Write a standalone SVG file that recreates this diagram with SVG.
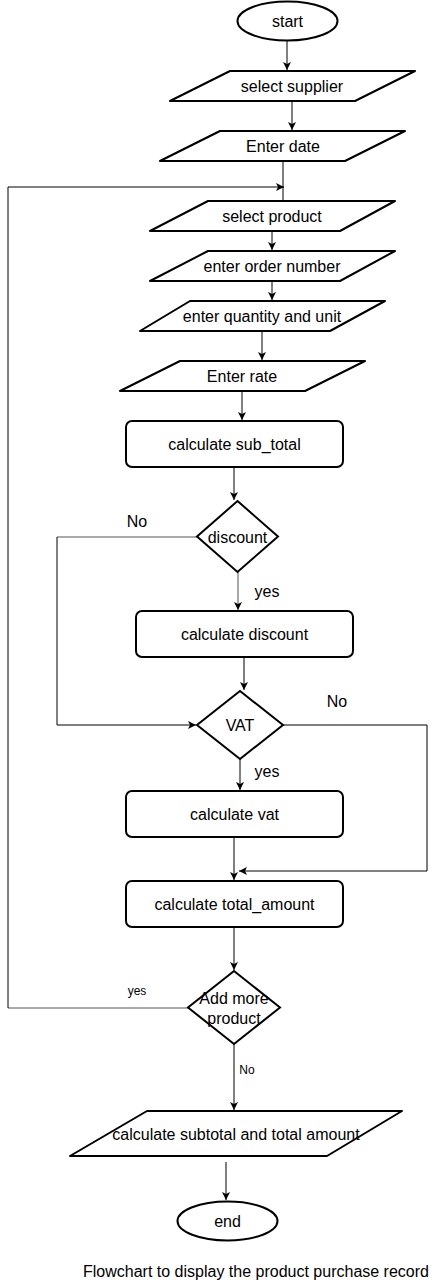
<svg xmlns="http://www.w3.org/2000/svg" width="437" height="1282" viewBox="0 0 437 1282">
<defs>
<marker id="arr" markerWidth="10" markerHeight="10" refX="8" refY="4" orient="auto" markerUnits="userSpaceOnUse">
<path d="M0,0 L8,4 L0,8 L2,4 Z" fill="#000"/>
</marker>
<style>
.n{fill:#fff;stroke:#000;stroke-width:2}
.t{font-family:"Liberation Sans",Arial,sans-serif;font-size:16px;fill:#000;text-anchor:middle;dominant-baseline:central}
.s{font-size:12px}
.c{fill:none;stroke:#000;stroke-width:1}
.g{stroke:#555}
</style>
</defs>
<rect width="437" height="1282" fill="#fff"/>
<g id="connectors">
<path class="c" d="M287,41 V70" marker-end="url(#arr)"/>
<path class="c" d="M292,101 V130" marker-end="url(#arr)"/>
<path class="c" d="M283,161 V201"/>
<path class="c g" d="M188,1008 H8"/>
<path class="c" d="M8,1008 V187 H284" marker-end="url(#arr)"/>
<path class="c" d="M272,231 V250" marker-end="url(#arr)"/>
<path class="c" d="M272,281 V300" marker-end="url(#arr)"/>
<path class="c" d="M262,331 V360" marker-end="url(#arr)"/>
<path class="c" d="M242,391 V420" marker-end="url(#arr)"/>
<path class="c" d="M234,467 V500" marker-end="url(#arr)"/>
<path class="c g" d="M238,572 V610" marker-end="url(#arr)"/>
<path class="c g" d="M197,537 H57"/>
<path class="c" d="M57,537 V725 H196" marker-end="url(#arr)"/>
<path class="c" d="M244,657 V690" marker-end="url(#arr)"/>
<path class="c" d="M283,725 H427 V871 H239" marker-end="url(#arr)"/>
<path class="c" d="M240,759 V790" marker-end="url(#arr)"/>
<path class="c" d="M234,837 V880" marker-end="url(#arr)"/>
<path class="c" d="M234,927 V970" marker-end="url(#arr)"/>
<path class="c" d="M234,1044 V1110" marker-end="url(#arr)"/>
<path class="c" d="M226,1162 V1200" marker-end="url(#arr)"/>
<text class="t" x="137" y="521">No</text>
<text class="t" x="267" y="591">yes</text>
<text class="t" x="337" y="701">No</text>
<text class="t" x="267" y="771">yes</text>
<text class="t s" x="137" y="991">yes</text>
<text class="t s" x="247" y="1070">No</text>
</g>
<g id="start"><ellipse class="n" cx="287.5" cy="21" rx="50" ry="19.5"/><text class="t" x="287.5" y="21">start</text></g>
<g id="select-supplier"><path class="n" d="M230,71 H415 L355,101 H170 Z" stroke-linejoin="round"/><text class="t" x="292" y="86">select supplier</text></g>
<g id="enter-date"><path class="n" d="M220,131 H405 L345,161 H160 Z" stroke-linejoin="round"/><text class="t" x="283" y="146">Enter date</text></g>
<g id="select-product"><path class="n" d="M208,201 H395 L340,231 H150 Z" stroke-linejoin="round"/><text class="t" x="272" y="216">select product</text></g>
<g id="enter-order-number"><path class="n" d="M208,251 H395 L340,281 H150 Z" stroke-linejoin="round"/><text class="t" x="272" y="266">enter order number</text></g>
<g id="enter-quantity"><path class="n" d="M190,301 H385 L330,331 H140 Z" stroke-linejoin="round"/><text class="t" x="262" y="316">enter quantity and unit</text></g>
<g id="enter-rate"><path class="n" d="M180,361 H365 L305,391 H120 Z" stroke-linejoin="round"/><text class="t" x="242" y="376">Enter rate</text></g>
<g id="calc-subtotal"><rect class="n" x="126" y="421" width="217" height="46" rx="6"/><text class="t" x="234.5" y="444">calculate sub_total</text></g>
<g id="discount"><path class="n" d="M237.5,501 L278,536.5 L237.5,572 L197,536.5 Z"/><text class="t" x="237.5" y="537">discount</text></g>
<g id="calc-discount"><rect class="n" x="136" y="611" width="217" height="46" rx="6"/><text class="t" x="244.5" y="634">calculate discount</text></g>
<g id="vat"><path class="n" d="M240,691 L283,725 L240,759 L197,725 Z"/><text class="t" x="240" y="725">VAT</text></g>
<g id="calc-vat"><rect class="n" x="126" y="791" width="217" height="46" rx="6"/><text class="t" x="234.5" y="814">calculate vat</text></g>
<g id="calc-total"><rect class="n" x="126" y="881" width="217" height="46" rx="6"/><text class="t" x="234.5" y="904">calculate total_amount</text></g>
<g id="add-more"><path class="n" d="M234,971 L280,1007.5 L234,1044 L188,1007.5 Z"/><text class="t" x="234" y="998">Add more</text><text class="t" x="234" y="1018">product</text></g>
<g id="calc-subtotal-total"><path class="n" d="M147,1111 H402 L327,1156 H70 Z" stroke-linejoin="round"/><text class="t" x="236" y="1134">calculate subtotal and total amount</text></g>
<g id="end"><ellipse class="n" cx="227.5" cy="1221" rx="50" ry="19.5"/><text class="t" x="227.5" y="1221">end</text></g>
<g id="caption"><text class="t" x="256" y="1271">Flowchart to display the product purchase record</text></g>
</svg>
